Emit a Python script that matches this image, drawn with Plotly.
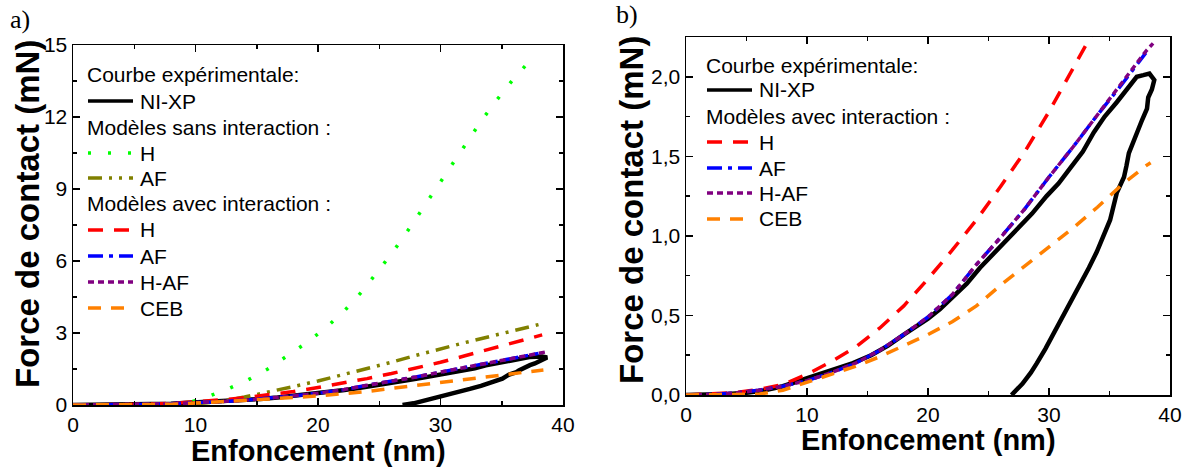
import plotly.graph_objects as go

# ---------------- data ----------------
# Experimental curve NI-XP (loading then unloading)
xp_x = [0, 2, 3.5, 5, 6.4, 8, 9.4, 10.8, 12.3, 13.8, 15.3, 16.7, 18.0, 19.0, 20.0, 21.0, 22.0,
        23.2, 24.3, 25.8, 27.4, 28.6, 29.8, 30.8, 31.8, 32.8, 33.7, 34.6, 35.6, 36.5, 37.25,
        37.8, 38.3, 38.7, 38.5, 38.2, 38.1, 37.7, 37.3, 37.0, 36.6, 36.4, 36.2, 35.6, 35.05,
        34.5, 33.95, 33.3, 32.4, 31.6, 30.8, 29.7, 29.0, 28.5, 27.8, 27.3, 26.9]
xp_y = [0, 0.002, 0.006, 0.014, 0.028, 0.055, 0.09, 0.12, 0.16, 0.2, 0.25, 0.31, 0.38, 0.43, 0.48, 0.54, 0.61,
        0.70, 0.80, 0.92, 1.04, 1.14, 1.25, 1.33, 1.43, 1.53, 1.65, 1.75, 1.84, 1.93, 2.0,
        2.01, 2.02, 1.98, 1.92, 1.87, 1.80, 1.73, 1.66, 1.59, 1.52, 1.44, 1.37, 1.27, 1.10,
        1.00, 0.90, 0.80, 0.67, 0.56, 0.44, 0.29, 0.20, 0.14, 0.07, 0.03, 0.0]

# Models without interaction (panel a only)
hs_x = [0, 8, 9.5, 11.0, 12.7, 14.3, 15.9, 17.4, 19.0, 20.6, 22.15, 23.56, 24.82, 26.0, 27.13,
        28.19, 29.25, 30.29, 31.37, 32.41, 33.44, 34.61, 35.84, 37.25]
hs_y = [0, 0, 0.1, 0.35, 0.68, 1.05, 1.5, 2.0, 2.57, 3.2, 3.92, 4.71, 5.51, 6.3, 7.11,
        7.92, 8.72, 9.51, 10.32, 11.12, 11.92, 12.72, 13.51, 14.32]

afs_x = [0, 4, 8, 10, 12, 14, 16, 18, 20, 22, 24, 26, 28, 30, 32, 34, 36, 38]
afs_y = [0, 0.0, 0.01, 0.05, 0.15, 0.33, 0.54, 0.77, 1.0, 1.25, 1.5, 1.78, 2.07, 2.35, 2.6, 2.85, 3.1, 3.35]

# Models with interaction
h_x = [0, 2, 4, 6, 8, 10, 12, 14, 16, 18, 20, 22, 24, 26, 28, 30, 32, 34, 36, 38, 38.3]
h_y = [0, 0.005, 0.015, 0.035, 0.065, 0.13, 0.21, 0.30, 0.42, 0.56, 0.73, 0.91, 1.10, 1.31, 1.53,
       1.78, 2.05, 2.33, 2.60, 2.87, 2.92]

af_x = [0, 2, 4, 6, 8, 10, 12, 14, 16, 18, 20, 22, 24, 26, 28, 30, 32, 34, 36, 38]
af_y = [0, 0.003, 0.012, 0.03, 0.055, 0.09, 0.14, 0.2, 0.28, 0.38, 0.49, 0.63, 0.82, 0.99, 1.17,
        1.37, 1.56, 1.76, 1.95, 2.15]

haf_x = [0, 2, 4, 6, 8, 10, 12, 14, 16, 18, 20, 22, 24, 26, 28, 30, 32, 34, 36, 38, 38.6]
haf_y = [0, 0.003, 0.012, 0.03, 0.055, 0.09, 0.14, 0.2, 0.28, 0.38, 0.49, 0.63, 0.82, 0.99, 1.17,
         1.37, 1.56, 1.76, 1.96, 2.16, 2.21]

ceb_x = [0, 4, 6, 8, 10, 12, 14, 16, 18, 20, 22, 24, 26, 28, 30, 32, 34, 36, 38, 38.4]
ceb_y = [0, 0, 0.005, 0.03, 0.08, 0.13, 0.18, 0.24, 0.31, 0.38, 0.46, 0.56, 0.69, 0.81, 0.93,
         1.05, 1.18, 1.32, 1.44, 1.46]

# Labels
x_title = "Enfoncement (nm)"
y_title = "Force de contact (mN)"
hdr_xp = "Courbe expérimentale:"
hdr_sans = "Modèles sans interaction :"
hdr_avec = "Modèles avec interaction :"

# ---------------- styles ----------------
W, H = 1190, 470
FONT = "Liberation Sans, Arial, sans-serif"
SERIF = "Liberation Serif, Times New Roman, serif"
C_XP, C_HS, C_AFS = "#000000", "#00ff00", "#808000"
C_H, C_AF, C_HAF, C_CEB = "#ff0000", "#0000ff", "#800080", "#ff8000"
D_HS = "3px,17px"
D_AFS = "14px,7px,3px,7px,3px,7px"
D_H = "15px,11px"
D_AF = "15px,6px,4px,6px"
D_HAF = "6px,4px"
D_CEB = "13px,10px"

def px(x):
    return x / W

def py(y):
    return 1 - y / H

fig = go.Figure()

def add(xs, ys, color, dash, width, xa, ya):
    fig.add_trace(go.Scatter(x=xs, y=ys, mode="lines", xaxis=xa, yaxis=ya,
                             line=dict(color=color, dash=dash, width=width),
                             showlegend=False, hoverinfo="skip"))

# Panel a
add(xp_x, xp_y, C_XP, "solid", 4.5, "x", "y")
add(hs_x, hs_y, C_HS, D_HS, 3.5, "x", "y")
add(afs_x, afs_y, C_AFS, D_AFS, 3.5, "x", "y")
add(h_x, h_y, C_H, D_H, 3.5, "x", "y")
add(af_x, af_y, C_AF, D_AF, 3.5, "x", "y")
add(haf_x, haf_y, C_HAF, D_HAF, 3.5, "x", "y")
add(ceb_x, ceb_y, C_CEB, D_CEB, 3.5, "x", "y")
# Panel b
add(xp_x, xp_y, C_XP, "solid", 4.5, "x2", "y2")
add(h_x, h_y, C_H, D_H, 3.5, "x2", "y2")
add(af_x, af_y, C_AF, D_AF, 3.5, "x2", "y2")
add(haf_x, haf_y, C_HAF, D_HAF, 3.5, "x2", "y2")
add(ceb_x, ceb_y, C_CEB, D_CEB, 3.5, "x2", "y2")

axis_common = dict(showline=True, linecolor="black", linewidth=1.5, mirror="ticks",
                   ticks="inside", ticklen=7, tickwidth=1.5, tickcolor="black",
                   showgrid=False, zeroline=False, automargin=False,
                   tickfont=dict(family=FONT, size=21, color="black"))
minor_common = dict(ticks="inside", ticklen=4, tickwidth=1.5, tickcolor="black", showgrid=False)

fig.update_layout(
    width=W, height=H, autosize=False, margin=dict(l=0, r=0, t=0, b=0, pad=0),
    paper_bgcolor="white", plot_bgcolor="white", separators=", ", showlegend=False,
    xaxis=dict(domain=[px(73), px(563)], anchor="y", range=[0, 40], dtick=10,
               minor=dict(dtick=5, **minor_common), **axis_common),
    yaxis=dict(domain=[py(405), py(45)], anchor="x", range=[0, 15], dtick=3,
               minor=dict(dtick=1.5, **minor_common), **axis_common),
    xaxis2=dict(domain=[px(686), px(1170)], anchor="y2", range=[0, 40], dtick=10,
                minor=dict(dtick=5, **minor_common), **axis_common),
    yaxis2=dict(domain=[py(395), py(37)], anchor="x2", range=[0, 2.25], dtick=0.5,
                tickformat=".1f", minor=dict(dtick=0.25, **minor_common), **axis_common),
)

ann = []
shapes = []

def text(x, y, s, size=21, angle=0, xanchor="left", family=FONT):
    ann.append(dict(x=px(x), y=py(y), xref="paper", yref="paper", text=s, showarrow=False,
                    xanchor=xanchor, yanchor="middle", textangle=angle,
                    font=dict(family=family, size=size, color="black")))

def sample(x0, y, color, dash, label, width=3.5):
    shapes.append(dict(type="line", xref="paper", yref="paper", x0=px(x0), x1=px(x0 + 45),
                       y0=py(y), y1=py(y), line=dict(color=color, dash=dash, width=width)))
    text(x0 + 50, y, label)

# Legend a
text(85, 75, hdr_xp)
sample(88, 101, C_XP, "solid", "NI-XP")
text(85, 127, hdr_sans)
sample(88, 153, C_HS, D_HS, "H")
sample(88, 178, C_AFS, D_AFS, "AF")
text(85, 204, hdr_avec)
sample(88, 230, C_H, D_H, "H")
sample(88, 256, C_AF, D_AF, "AF")
sample(88, 282, C_HAF, D_HAF, "H-AF")
sample(88, 308, C_CEB, D_CEB, "CEB")

# Legend b
text(704, 65, hdr_xp)
sample(707, 90, C_XP, "solid", "NI-XP")
text(704, 116, hdr_avec)
sample(707, 142, C_H, D_H, "H")
sample(707, 168, C_AF, D_AF, "AF")
sample(707, 193, C_HAF, D_HAF, "H-AF")
sample(707, 219, C_CEB, D_CEB, "CEB")

# Axis titles
text(318, 451, "<b>%s</b>" % x_title, size=29, xanchor="center")
text(928, 440, "<b>%s</b>" % x_title, size=29, xanchor="center")
text(27, 214, "<b>%s</b>" % y_title, size=33, angle=-90, xanchor="center")
text(631, 210, "<b>%s</b>" % y_title, size=33, angle=-90, xanchor="center")

# Panel labels
text(8, 19, "a)", size=26, family=SERIF)
text(614, 14, "b)", size=26, family=SERIF)

fig.update_layout(annotations=ann, shapes=shapes)
fig.write_html("out.html", config={"displayModeBar": False, "staticPlot": True},
               post_script="document.body.style.margin='0';document.body.style.padding='0';")
